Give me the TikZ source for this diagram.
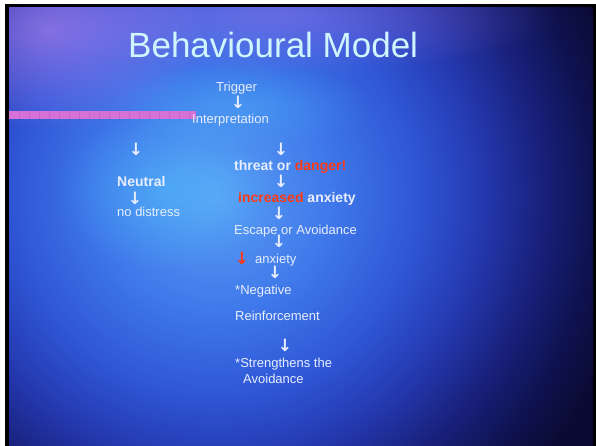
\documentclass[tikz,border=0pt]{standalone}
\usepackage{fontspec}
\setmainfont{Liberation Sans}
\newfontfamily\arrowfont{DejaVu Sans}
\usetikzlibrary{fadings}
\definecolor{txtcol}{HTML}{E8EEFF}
\definecolor{hotred}{HTML}{FF3A14}
\definecolor{titlecol}{HTML}{CFF6FF}
\definecolor{barpink}{HTML}{D672D6}
\definecolor{barline}{HTML}{C466CC}
\definecolor{glowcyan}{HTML}{4FD4FF}
\definecolor{glowpurple}{HTML}{A880F0}
\definecolor{bgA}{HTML}{5AA0F5}
\definecolor{bgB}{HTML}{3F78EA}
\definecolor{bgC}{HTML}{2F56D6}
\definecolor{bgD}{HTML}{2438AE}
\definecolor{bgE}{HTML}{18207A}
\definecolor{bgF}{HTML}{0F1250}
\definecolor{bgG}{HTML}{0A0B34}
\pgfdeclareradialshading{slidebg}{\pgfpoint{0bp}{0bp}}{color(0bp)=(bgA); color(7bp)=(bgB); color(12bp)=(bgC); color(16bp)=(bgD); color(19.5bp)=(bgE); color(22.5bp)=(bgF); color(25bp)=(bgG); color(50bp)=(bgG)}
\tikzfading[name=glow, inner color=transparent!0, outer color=transparent!100]

\begin{document}
\begin{tikzpicture}[x=1pt, y=-1pt,
    txt/.style={anchor=base west, inner sep=0pt, text=txtcol, font=\fontsize{13}{15.5}\selectfont},
    btxt/.style={txt, font=\fontsize{14}{16}\selectfont\bfseries},
    dn/.style={inner sep=0pt, text=txtcol, font=\arrowfont\fontsize{17}{18}\selectfont\bfseries},
    glowfill/.style={path fading=glow, fill opacity=#1}
]

% slide background
\useasboundingbox (0,0) rectangle (596,446);
\fill[white] (0,0) rectangle (596,446);
\fill[black] (5,4) rectangle (596,446);
\begin{scope}
    \clip (9,8) rectangle (593,446);
    \fill[bgG] (9,8) rectangle (593,446);
    \shade[shading=slidebg] (215,195) circle (420);
    \fill[glowpurple, glowfill=0.7] (50,30) ellipse [x radius=160, y radius=100];
    \fill[glowpurple, glowfill=0.45] (280,15) ellipse [x radius=280, y radius=60];
    \fill[glowcyan, glowfill=0.35] (165,190) ellipse [x radius=110, y radius=80];
    \fill[glowcyan, glowfill=0.25] (240,105) ellipse [x radius=130, y radius=45];
\end{scope}

% pink bar
\fill[barpink] (9,111) rectangle (196,119);
\foreach \x in {19,29,...,189}
    \draw[barline, line width=0.5pt] (\x,111) -- (\x,119);

\node[anchor=base west, inner sep=0pt, text=titlecol, font=\fontsize{35}{40}\selectfont] (title) at (128,58) {Behavioural Model};

\node[txt] (trigger) at (216,92) {Trigger};
\node[txt] (interp) at (192,124) {Interpretation};
\node[btxt] (threat) at (234,171) {threat or \textcolor{hotred}{danger!}};
\node[btxt] (neutral) at (117,187) {Neutral};
\node[txt] (nodist) at (117,217) {no distress};
\node[btxt] (incr) at (238,203) {\textcolor{hotred}{increased} anxiety};
\node[txt] (escape) at (234,234) {Escape or Avoidance};
\node[txt] (anx) at (255,263) {anxiety};
\node[txt] (neg) at (235,294) {*Negative};
\node[txt] (reinf) at (235,320) {Reinforcement};
\node[txt, align=left] (stren) at (235,383) {*Strengthens the\\\hspace{8pt}Avoidance};

\node[dn] (a1) at (238,102) {↓};
\node[dn] (a2) at (136,149) {↓};
\node[dn] (a3) at (281,149) {↓};
\node[dn] (a4) at (281,181) {↓};
\node[dn] (a5) at (135,198) {↓};
\node[dn] (a6) at (279,213) {↓};
\node[dn] (a7) at (279,241) {↓};
\node[dn, text=hotred] (a8) at (242,258) {↓};
\node[dn] (a9) at (275,272) {↓};
\node[dn] (a10) at (285,345) {↓};

\end{tikzpicture}
\end{document}
